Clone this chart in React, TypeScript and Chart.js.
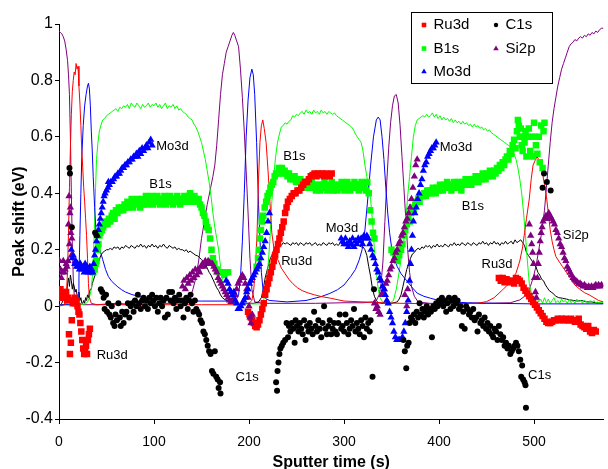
import React, { useEffect, useRef } from "react";
import { Chart, registerables } from "chart.js";

Chart.register(...registerables);

const FONT = '"Liberation Sans", Arial, Helvetica, sans-serif';

// ---------- Peak-shift markers: [sputter time (s), peak shift (eV)] ----------
const ru3dShift = [
  [0.5,0.04],[1.5,0.06],[2.5,0.03],[3.5,0.04],[4.5,0.05],[5.5,0.03],[6.5,0.04],[7.5,0.05],[8.5,0.02],[9.5,0.03],
  [10.5,-0.1],[11.5,-0.17],[12.5,-0.13],[13.5,-0.05],[14.5,0.01],[15.5,0.02],[16.5,0.03],[17.5,0.01],[18.5,0.02],[19.5,0.0],
  [20.5,-0.02],[21.5,-0.03],[22.5,-0.06],[23.5,-0.09],[24.5,-0.12],[25.5,-0.15],[26.5,-0.17],[27.5,-0.16],[28.5,-0.14],[29.5,-0.17],
  [30.5,-0.12],[31.5,-0.1],[32.5,-0.08],
  [199,-0.02],[200.5,-0.03],[202,-0.04],[203.5,-0.05],[205,-0.06],[206.5,-0.07],[208,-0.075],[209.5,-0.065],[211,-0.05],[212.5,-0.03],
  [214,-0.01],[215.5,0.01],[217,0.04],[218.5,0.06],[220,0.08],[221.5,0.1],[223,0.12],[224.5,0.14],[226,0.16],[227.5,0.18],
  [229,0.2],[230.5,0.22],[232,0.24],[233.5,0.26],[235,0.28],[236.5,0.3],[238,0.33],[239.5,0.35],[241,0.37],[243,0.38],
  [245,0.39],[247,0.4],[249,0.4],[251,0.41],[253,0.41],[255,0.42],[257,0.43],[259,0.44],[261,0.44],[263,0.45],
  [265,0.46],[267,0.465],[269,0.47],[271,0.46],[273,0.47],[275,0.465],[277,0.47],[279,0.46],[281,0.47],[283,0.465],[285,0.46],[287,0.47],
  [463,0.1],[465,0.09],[467,0.1],[469,0.085],[471,0.095],[473,0.09],[475,0.085],[477,0.09],[479,0.08],[481,0.1],
  [483,0.095],[485,0.09],[487,0.08],[489,0.065],[491,0.055],[493,0.045],[495,0.035],[497,0.025],[499,0.015],[501,0.005],
  [503,-0.005],[505,-0.015],[507,-0.025],[509,-0.035],[511,-0.045],[513,-0.055],[515,-0.06],[517,-0.06],[519,-0.055],[521,-0.05],
  [523,-0.05],[525,-0.045],[527,-0.05],[529,-0.045],[531,-0.05],[533,-0.045],[535,-0.05],[537,-0.05],[539,-0.045],[541,-0.05],
  [543,-0.055],[545,-0.05],[547,-0.045],[549,-0.065],[551,-0.07],[553,-0.075],[555,-0.08],[557,-0.07],[559,-0.09],[561,-0.095],[563,-0.085],[565,-0.09],
];

const b1sShift = [
  [36,0.12],[37.5,0.13],[38.5,0.15],[39.5,0.16],[40.5,0.2],[41.5,0.22],[42.5,0.25],[43.5,0.26],[45,0.27],[46.5,0.28],
  [48,0.29],[49.5,0.3],[51,0.29],[52.5,0.31],[54,0.3],[55.5,0.32],[57,0.33],[58.5,0.31],[60,0.34],[61.5,0.33],
  [63,0.35],[64.5,0.34],[66,0.35],[67.5,0.34],[69,0.36],[70.5,0.35],[72,0.37],[73.5,0.35],[75,0.36],[76.5,0.38],
  [78,0.35],[79.5,0.37],[81,0.36],[82.5,0.38],[84,0.37],[85.5,0.35],[87,0.38],[88.5,0.36],[90,0.37],[91.5,0.39],
  [93,0.36],[94.5,0.38],[96,0.37],[97.5,0.39],[99,0.36],[100.5,0.38],[102,0.37],[103.5,0.39],[105,0.38],[106.5,0.36],
  [108,0.38],[109.5,0.37],[111,0.39],[112.5,0.36],[114,0.38],[115.5,0.37],[117,0.39],[118.5,0.38],[120,0.36],[121.5,0.38],
  [123,0.37],[124.5,0.39],[126,0.38],[127.5,0.36],[129,0.38],[130.5,0.37],[132,0.39],[133.5,0.38],[135,0.37],[136.5,0.39],
  [138,0.4],[139.5,0.38],[141,0.37],[142.5,0.39],[144,0.38],[145.5,0.37],[147,0.38],[148.5,0.36],[150,0.35],[151.5,0.33],
  [153,0.32],[154.5,0.3],[156,0.28],[157.5,0.27],[159,0.24],[160.5,0.2],[162,0.17],[163.5,0.15],[166,0.13],[168,0.12],
  [170,0.12],[172,0.12],[174,0.11],[176,0.12],[178,0.12],
  [208,0.14],[209.5,0.17],[210.5,0.2],[211.5,0.24],[212.5,0.27],[213.5,0.3],[215,0.32],[216.5,0.35],[218,0.37],[219.5,0.39],
  [221,0.4],[222.5,0.42],[224,0.43],[225.5,0.44],[227,0.46],[228.5,0.47],[230,0.47],[231.5,0.49],[233,0.48],[234.5,0.49],
  [236,0.47],[237.5,0.48],[239,0.47],[240.5,0.46],[242,0.47],[243.5,0.45],[245,0.46],[246.5,0.45],[248,0.46],[249.5,0.44],
  [251,0.45],[252.5,0.44],[254,0.45],[255.5,0.43],[257,0.44],[258.5,0.43],[260,0.44],[261.5,0.42],[263,0.43],[264.5,0.42],
  [266,0.44],[267.5,0.42],[269,0.43],[270.5,0.41],[272,0.42],[273.5,0.43],[275,0.41],[276.5,0.43],[278,0.42],[279.5,0.44],
  [281,0.42],[282.5,0.41],[284,0.43],[285.5,0.42],[287,0.44],[288.5,0.41],[290,0.43],[291.5,0.42],[293,0.41],[294.5,0.43],
  [296,0.42],[297.5,0.44],[299,0.42],[300.5,0.41],[302,0.43],[303.5,0.44],[305,0.42],[306.5,0.41],[308,0.43],[309.5,0.42],
  [311,0.44],[312.5,0.42],[314,0.43],[315.5,0.41],[317,0.43],[318.5,0.44],[320,0.42],[321.5,0.43],[323,0.41],[324.5,0.44],
  [326,0.4],[327.5,0.34],[329,0.3],[330.5,0.26],[332,0.24],
  [350,0.2],[352,0.19],[354,0.17],[356,0.16],[358,0.18],[360,0.2],[361.5,0.22],[363,0.25],[364.5,0.27],[366,0.29],
  [367.5,0.31],[369,0.3],[370.5,0.33],[372,0.35],[373.5,0.34],[375,0.36],[376.5,0.37],[378,0.38],[379.5,0.37],[381,0.39],
  [383,0.39],[384.5,0.4],[386,0.39],[387.5,0.41],[389,0.4],[390.5,0.41],[392,0.4],[393.5,0.42],[395,0.41],[396.5,0.4],
  [398,0.42],[399.5,0.41],[401,0.43],[402.5,0.42],[404,0.41],[405.5,0.43],[407,0.42],[408.5,0.44],[410,0.42],[411.5,0.43],
  [413,0.41],[414.5,0.43],[416,0.44],[417.5,0.42],[419,0.43],[420.5,0.44],[422,0.42],[423.5,0.41],[425,0.44],[426.5,0.43],
  [428,0.45],[429.5,0.43],[431,0.44],[432.5,0.45],[434,0.43],[435.5,0.45],[437,0.44],[438.5,0.46],[440,0.45],[441.5,0.44],
  [443,0.46],[444.5,0.45],[446,0.47],[447.5,0.46],[449,0.45],[450.5,0.47],[452,0.46],[453.5,0.48],[455,0.47],[456.5,0.46],
  [458,0.48],[459.5,0.47],[461,0.49],[462.5,0.48],[464,0.5],[465.5,0.49],[467,0.51],[468.5,0.5],[470,0.52],[471.5,0.53],
  [473,0.52],[474.5,0.55],[476,0.54],[477.5,0.57],[479,0.59],[480.5,0.56],
  [482,0.62],[483,0.66],[484,0.64],[485,0.6],[486,0.63],[487,0.57],[488,0.55],[489,0.6],[490,0.58],[491,0.62],
  [492,0.53],[493,0.6],[494.5,0.63],[496,0.55],[497,0.6],[498.5,0.53],[500,0.65],[501,0.6],[502,0.57],[503.5,0.54],
  [505,0.6],[506,0.51],[507.5,0.64],[509,0.49],[510,0.62],[511,0.65],
];

const mo3dShift = [
  [13,0.2],[14,0.17],[15,0.18],[16.5,0.15],[17.5,0.16],[18.5,0.14],[19.5,0.15],[20.5,0.14],[21.5,0.13],[22.5,0.15],
  [23.5,0.14],[24.5,0.13],[25.5,0.14],[26.5,0.12],[27.5,0.15],[28.5,0.13],[29.5,0.14],[30.5,0.12],[31.5,0.13],[32.5,0.14],
  [33.5,0.12],[34.5,0.13],[35.5,0.12],[36.5,0.15],[37.5,0.18],[38.5,0.2],[39.5,0.23],[40.5,0.25],[41.5,0.27],[42.5,0.29],
  [43.5,0.31],[44.5,0.33],[45.5,0.35],[46.5,0.37],[47.5,0.39],[48.5,0.4],[50,0.41],[51.5,0.42],[52,0.44],[53,0.43],
  [54.5,0.44],[56,0.44],[57.5,0.45],[59,0.46],[60.5,0.46],[62,0.47],[63.5,0.47],[65,0.48],[66.5,0.49],[68,0.49],
  [69.5,0.5],[71,0.5],[72.5,0.51],[74,0.51],[75.5,0.52],[77,0.52],[78.5,0.53],[80,0.53],[81.5,0.54],[83,0.53],
  [84.5,0.55],[86,0.54],[87.5,0.56],[89,0.55],[90.5,0.56],[92,0.57],[93.5,0.56],[95,0.58],[96.5,0.59],[98,0.57],
  [176,0.09],[178,0.08],[179.5,0.06],[181,0.05],[182.5,0.04],[184,0.05],[185.5,0.02],[187,0.01],[188.5,-0.01],[190,-0.01],
  [191.5,0.0],[193,0.01],[194.5,0.02],[196,0.03],[197.5,0.05],[199,0.06],[200.5,0.08],[202,0.09],[203.5,0.1],[205,0.11],
  [206.5,0.12],[208,0.13],[209.5,0.14],[211,0.15],[212.5,0.17],[214,0.19],[215.5,0.21],[217,0.23],[218.5,0.26],[220,0.3],[221.5,0.33],
  [297,0.24],[298.5,0.23],[300,0.22],[301.5,0.24],[303,0.22],[304.5,0.21],[306,0.23],[307.5,0.22],[309,0.24],[310.5,0.21],
  [312,0.23],[313.5,0.22],[315,0.24],[316.5,0.23],[318,0.24],[319.5,0.22],[321,0.25],[322.5,0.24],[324,0.25],[325.5,0.24],
  [327,0.22],[328.5,0.2],[330,0.18],[331.5,0.17],[333,0.15],[334.5,0.13],[336,0.12],[337.5,0.1],[339,0.09],[340.5,0.07],
  [342,0.06],[343.5,0.04],[345,0.02],[346.5,0.01],[348,-0.02],[349.5,-0.04],[351,-0.06],[352.5,-0.09],[354,-0.11],[355.5,-0.12],
  [357,-0.12],[358.5,-0.12],[360,-0.12],[361.5,-0.11],[363,-0.09],[364.5,-0.06],[366,-0.02],[367.5,0.02],[369,0.09],[370,0.15],
  [371,0.2],[372,0.25],[373,0.3],[374.5,0.33],[376,0.35],[377.5,0.38],[379,0.4],[380.5,0.43],[382,0.45],[383.5,0.48],
  [385,0.5],[386.5,0.51],[388,0.53],[389.5,0.54],[391,0.55],[392.5,0.56],[394,0.56],[395.5,0.57],[397,0.58],
];

const c1sShift = [
  [11,0.49],[11.5,0.47],[13.5,0.28],[38,0.26],[39.5,0.25],
  [44,0.06],[45.5,0.05],[47,0.03],[48,-0.01],[49.5,0.04],[50.5,-0.02],[52,0.01],[53,-0.03],[54.5,-0.04],[55.5,0.0],
  [57,-0.06],[58.5,-0.07],[59.5,-0.03],[61,-0.05],[62.5,0.01],[64,-0.04],[65,-0.07],[66.5,-0.02],[68,-0.06],[69.5,-0.03],
  [71,-0.02],[72.5,0.01],[74,-0.04],[75.5,0.0],[77,0.01],[78.5,-0.02],[80,0.02],[81.5,0.0],[83,0.04],[84.5,0.01],
  [86,-0.01],[87.5,0.02],[89,0.03],[90.5,0.0],[92,0.02],[93.5,-0.01],[95,0.03],[96.5,0.01],[98,0.04],[99.5,0.02],
  [101,0.0],[102.5,0.03],[104,-0.02],[105.5,0.01],[107,0.03],[108.5,0.0],[110,0.02],[111.5,-0.04],[113,0.03],[114.5,-0.03],
  [116,0.05],[117.5,0.02],[119,0.05],[120.5,0.01],[122,0.03],[123.5,-0.01],[125,0.02],[126.5,0.04],[128,0.0],[129.5,0.02],
  [131,-0.04],[132.5,0.01],[134,0.03],[135.5,-0.01],[137,0.02],[138.5,0.04],[140,0.01],[141.5,-0.02],[143,0.02],[144.5,-0.01],
  [146,-0.02],[147.5,-0.03],[149,-0.05],[150.5,-0.06],[152,-0.09],[153.5,-0.1],[155,-0.12],[156.5,-0.14],[158,-0.16],[159.5,-0.17],
  [161,-0.23],[162.5,-0.24],[164,-0.16],[165.5,-0.25],[167,-0.26],[168,-0.29],[169.5,-0.27],[170,-0.31],
  [228.5,-0.27],[229.5,-0.3],[230,-0.23],[231,-0.2],[232,-0.17],[233,-0.15],[234.5,-0.14],[236,-0.13],[238,-0.12],[239.5,-0.06],
  [241,-0.11],[242,-0.07],[243.5,-0.09],[245,-0.06],[246.5,-0.08],[248,-0.13],[249,-0.05],[250.5,-0.07],[252,-0.09],[253.5,-0.06],
  [255,-0.08],[256.5,-0.1],[258,-0.05],[259.5,-0.12],[261,-0.07],[262.5,-0.09],[264,-0.06],[265.5,-0.08],[267,-0.1],[268.5,-0.02],
  [270,-0.07],[271.5,-0.09],[273,-0.05],[274.5,-0.08],[276,-0.11],[277.5,-0.06],[279,0.0],[280.5,-0.08],[282,-0.1],[283.5,-0.07],
  [285,-0.05],[286.5,-0.1],[288,-0.08],[289.5,-0.06],[291,-0.09],[292.5,-0.1],[294,-0.06],[295.5,-0.03],[297,-0.08],[298.5,-0.07],
  [300,-0.09],[301.5,-0.03],[303,-0.06],[304.5,-0.1],[306,-0.08],[307.5,-0.05],[309,-0.07],[310.5,-0.01],[312,-0.09],[313.5,-0.06],
  [315,-0.08],[316.5,-0.1],[318,-0.05],[319.5,-0.07],[321,-0.11],[322.5,-0.04],[324,-0.08],[325.5,-0.06],[327,-0.09],[328,-0.05],
  [330,-0.25],[331.5,0.06],
  [362.5,-0.12],[364,-0.16],[365.5,-0.22],[366.5,-0.14],[368,-0.13],[369,-0.06],[370.5,-0.04],[372,-0.05],[373.5,-0.03],[375,-0.06],
  [376.5,-0.02],[378,-0.04],[379.5,0.01],[381,-0.03],[382.5,-0.01],[384,-0.04],[385.5,-0.02],[387,0.0],[388.5,-0.03],[390,-0.01],
  [391.5,-0.02],[392.5,-0.11],[394,0.0],[395.5,-0.01],[397,0.01],[398.5,0.0],[400,0.02],[401.5,0.01],[403,0.03],[404.5,0.0],
  [406,0.02],[407.5,-0.02],[409,0.01],[410.5,0.03],[412,-0.01],[413.5,0.02],[415,0.0],[416.5,0.03],[418,0.01],[419.5,0.02],
  [421,-0.01],[422.5,0.0],[424,-0.07],[425.5,-0.02],[427,-0.08],[428.5,0.0],[430,-0.01],[431.5,-0.03],[433,-0.02],[434.5,-0.04],
  [436,-0.01],[437.5,-0.05],[439,-0.04],[440.5,-0.09],[442,-0.03],[443.5,-0.06],[445,-0.05],[446.5,-0.07],[448,-0.04],[449.5,-0.08],
  [451,-0.06],[452.5,-0.09],[454,-0.07],[455.5,-0.1],[457,-0.11],[458.5,-0.08],[460,-0.09],[461.5,-0.12],[463,-0.07],[464.5,-0.1],
  [466,-0.12],[467.5,-0.11],[469,-0.14],[470.5,-0.13],[472,-0.15],[473.5,-0.14],[475,-0.17],[476.5,-0.16],[478,-0.15],[479.5,-0.14],
  [481,-0.13],[482.5,-0.14],[484,-0.16],[485.5,-0.19],[486.5,-0.25],[487.5,-0.21],[488.5,-0.26],[490,-0.27],[491,-0.28],[491.5,-0.36],
  [509,0.42],[510.5,0.47],[513.5,0.44],[517.5,0.41],
];

const si2pShift = [
  [0.5,0.16],[1.5,0.13],[2.5,0.1],[3.5,0.12],[4.5,0.16],[5.5,0.12],[6.5,0.13],[7.5,0.15],[8.5,0.14],[9.5,0.16],
  [10,0.29],[10.5,0.39],[11,0.22],[11.5,0.33],[12,0.35],[12.5,0.26],[13,0.18],[13.5,0.24],
  [130,0.07],[131.5,0.09],[133,0.06],[134.5,0.1],[136,0.08],[137.5,0.11],[139,0.09],[140.5,0.12],[142,0.1],[143.5,0.13],
  [145,0.11],[146.5,0.13],[148,0.12],[149.5,0.14],[151,0.15],[152.5,0.14],[154,0.16],[155.5,0.15],[157,0.16],[158.5,0.155],
  [160,0.15],[161.5,0.15],[163,0.14],[164.5,0.13],[166,0.12],[167.5,0.1],[169,0.09],[170.5,0.08],[172,0.07],[173.5,0.06],
  [175,0.05],[176.5,0.04],[178,0.03],[179.5,0.02],[181,0.015],[182.5,0.02],[184,0.03],[185.5,0.04],[187,0.06],[188.5,0.08],
  [190,0.09],[191.5,0.1],[193,0.11],[194.5,0.1],[196,0.08],[197.5,0.06],[199,0.03],[200,0.0],[201,-0.04],[202,-0.06],[203.5,-0.03],
  [332,0.01],[333.5,-0.01],[335,0.0],[336.5,-0.02],[338,-0.03],[339.5,0.04],[341,0.05],[342.5,0.06],[344,0.08],[345.5,0.09],
  [347,0.11],[348.5,0.13],[350,0.14],[351.5,0.16],[353,0.17],[354.5,0.19],[356,0.2],[357.5,0.22],[359,0.23],[360.5,0.25],
  [362,0.26],[363.5,0.28],[365,0.3],[366.5,0.31],[368,0.33],[369.5,0.35],[371,0.38],[372.5,0.42],[374,0.46],[375.5,0.5],
  [377,0.52],[364,0.04],[366,0.0],[367,0.06],
  [495,0.29],[496.5,0.25],[497.5,0.22],[498.5,0.19],[499.5,0.15],[500.5,0.1],[501.5,0.05],[502.5,0.03],[503.5,0.1],[504.5,0.15],
  [505.5,0.19],[506.5,0.23],[507.5,0.26],[508.5,0.28],[509.5,0.3],[511,0.31],[512.5,0.32],[514,0.31],[515.5,0.33],[517,0.32],
  [518.5,0.31],[520,0.3],[521.5,0.29],[523,0.27],[524.5,0.26],[526,0.24],[527.5,0.22],[529,0.21],[530.5,0.19],[532,0.17],
  [533.5,0.16],[535,0.14],[536.5,0.13],[538,0.12],[539.5,0.11],[541,0.1],[542.5,0.095],[544,0.09],[545.5,0.085],[547,0.08],
  [548.5,0.08],[550,0.075],[551.5,0.07],[553,0.075],[554.5,0.07],[556,0.065],[557.5,0.07],[559,0.065],[560.5,0.07],[562,0.065],
  [563.5,0.07],[565,0.075],[566.5,0.07],[568,0.075],[569.5,0.07],[571,0.075],
];

// ---------- Normalised depth-profile intensities (thin lines) ----------
const si2pLine = [
  [0,0.975],[1.5,0.97],[3,0.965],[4.5,0.955],[6,0.94],[7.5,0.91],[9,0.87],[10,0.82],[11,0.75],[12,0.6],[13,0.4],[14,0.22],
  [15,0.1],[16,0.04],[18,0.01],[25,0.005],[40,0.005],[60,0.01],[80,0.005],[100,0.01],[120,0.01],[135,0.015],[138,0.03],
  [141,0.06],[144,0.1],[147,0.16],[150,0.24],[153,0.3],[156,0.36],[159,0.41],[162,0.46],[164,0.5],[166,0.57],[168,0.66],
  [170,0.75],[172,0.82],[174,0.86],[176,0.9],[178,0.92],[180,0.94],[182,0.96],[183.5,0.97],[185,0.96],[187,0.94],[189,0.92],
  [191,0.84],[193,0.74],[195,0.62],[197,0.48],[199,0.33],[201,0.17],[203,0.06],[206,0.015],[215,0.01],[240,0.01],[270,0.01],
  [300,0.012],[320,0.012],[330,0.015],[334,0.02],[337,0.04],[339,0.08],[341,0.16],[343,0.3],[345,0.44],[347,0.56],[349,0.65],
  [351,0.71],[353,0.745],[355,0.75],[357,0.72],[359,0.64],[361,0.53],[363,0.42],[365,0.31],[367,0.2],[369,0.12],[371,0.07],
  [374,0.035],[378,0.015],[390,0.01],[420,0.01],[450,0.01],[475,0.012],[485,0.022],[490,0.035],[495,0.058],[499,0.1],[502,0.14],
  [505,0.2],[508,0.26],[511,0.34],[513,0.42],[515,0.5],[517,0.58],[519,0.65],[521,0.7],[523,0.74],[525,0.78],[527,0.81],
  [529,0.84],[531,0.86],[533,0.88],[535,0.9],[537,0.92],[539,0.93],[541,0.935],[543,0.945],[545,0.94],[547,0.95],[549,0.955],
  [551,0.95],[553,0.96],[555,0.955],[557,0.965],[559,0.96],[561,0.97],[563,0.965],[565,0.975],[567,0.97],[569,0.98],[571,0.985],[573,0.985],
];

const ru3dLine = [
  [0,0.0],[6,0.005],[8,0.05],[9,0.13],[10,0.26],[11,0.42],[12,0.56],[13,0.68],[14,0.76],[15,0.8],[16,0.83],[17,0.82],
  [18,0.86],[19,0.84],[20,0.85],[21,0.78],[22,0.72],[23,0.64],[24,0.55],[25,0.49],[26,0.42],[27,0.37],[28,0.31],[29,0.25],
  [30,0.17],[31,0.08],[32,0.03],[34,0.01],[40,0.005],[60,0.005],[100,0.005],[150,0.005],[190,0.005],[200,0.01],[203,0.02],
  [205,0.06],[207,0.15],[208.5,0.26],[210,0.45],[211.5,0.58],[213,0.64],[214.5,0.66],[216,0.63],[218,0.58],[220,0.48],
  [222,0.37],[224,0.26],[226,0.21],[228,0.18],[231,0.16],[234,0.135],[238,0.115],[242,0.095],[246,0.08],[251,0.065],
  [256,0.055],[262,0.047],[269,0.04],[276,0.034],[286,0.028],[300,0.018],[320,0.015],[340,0.012],[360,0.01],[400,0.008],
  [440,0.01],[450,0.016],[458,0.03],[467,0.058],[475,0.085],[481,0.117],[485,0.16],[488,0.21],[490,0.26],[492,0.31],
  [495,0.38],[497,0.45],[499,0.5],[501,0.515],[503,0.53],[505,0.52],[507,0.5],[509,0.47],[511,0.43],[513,0.39],[515,0.33],
  [517,0.27],[519,0.23],[521,0.2],[523,0.176],[526,0.16],[530,0.14],[534,0.12],[538,0.1],[543,0.075],[548,0.06],[553,0.048],
  [558,0.04],[563,0.03],[568,0.02],[573,0.015],
];

const mo3dLine = [
  [0,0.005],[15,0.005],[18,0.01],[20,0.03],[21,0.1],[22,0.25],[23,0.4],[24,0.53],[25.5,0.64],[27,0.71],[28.5,0.75],
  [30,0.78],[31,0.79],[32,0.77],[33,0.71],[34,0.62],[35,0.55],[36,0.46],[37.5,0.35],[39,0.26],[40.5,0.22],[43,0.2],
  [46,0.165],[49,0.13],[52,0.105],[55,0.09],[58,0.08],[62,0.068],[66,0.058],[70,0.05],[76,0.042],[83,0.035],[92,0.028],
  [100,0.024],[120,0.02],[150,0.018],[180,0.018],[186,0.02],[189,0.04],[191,0.1],[193,0.23],[195,0.4],[197,0.6],[199,0.73],
  [201,0.81],[203,0.84],[204.5,0.82],[206,0.75],[208,0.58],[210,0.36],[211.5,0.24],[213,0.12],[215,0.05],[218,0.025],
  [222,0.02],[240,0.015],[260,0.02],[276,0.034],[285,0.045],[293,0.058],[300,0.075],[307,0.105],[312,0.13],[316,0.164],
  [319,0.2],[322,0.27],[325,0.38],[328,0.5],[331,0.6],[334,0.66],[336,0.67],[338,0.66],[340,0.6],[342,0.52],[344,0.42],
  [346,0.33],[348,0.26],[350,0.21],[353,0.17],[356,0.14],[360,0.115],[366,0.09],[372,0.065],[377,0.046],[384,0.035],
  [391,0.028],[400,0.02],[408,0.016],[430,0.012],[460,0.01],[500,0.008],[540,0.008],[573,0.008],
];

const b1sLine = [
  [0,0.005],[20,0.005],[28,0.008],[30,0.015],[32,0.03],[34,0.06],[35.5,0.12],[36.5,0.2],[37.5,0.3],[38.5,0.42],[39.5,0.52],
  [41,0.58],[42.5,0.62],[44,0.64],[46,0.66],[48,0.665],[50,0.675],[52,0.68],[54,0.685],[56,0.69],[58,0.695],[60,0.7],
  [62,0.69],[64,0.705],[66,0.7],[68,0.71],[70,0.705],[72,0.715],[74,0.7],[76,0.72],[78,0.71],[80,0.705],[82,0.72],
  [84,0.71],[86,0.7],[88,0.715],[90,0.705],[92,0.71],[94,0.72],[96,0.705],[98,0.715],[100,0.71],[102,0.72],[104,0.705],
  [106,0.715],[108,0.7],[110,0.71],[112,0.72],[114,0.7],[116,0.71],[118,0.705],[120,0.715],[122,0.7],[124,0.71],[126,0.695],
  [128,0.7],[130,0.69],[132,0.685],[134,0.68],[136,0.67],[138,0.665],[140,0.66],[142,0.645],[144,0.635],[146,0.62],[148,0.6],
  [150,0.58],[152,0.55],[154,0.52],[156,0.48],[158,0.44],[160,0.39],[162,0.33],[164,0.28],[166,0.24],[168,0.2],[170,0.14],
  [172,0.09],[174,0.06],[176,0.04],[178,0.03],[182,0.016],[190,0.008],[212,0.008],[215,0.015],[218,0.06],[220,0.14],
  [222,0.235],[224,0.37],[226,0.46],[228,0.53],[230,0.58],[232,0.61],[234,0.635],[236,0.64],[238,0.65],[240,0.645],
  [242,0.655],[244,0.66],[246,0.675],[248,0.67],[250,0.68],[252,0.675],[254,0.685],[256,0.69],[258,0.68],[260,0.695],
  [262,0.685],[264,0.69],[266,0.68],[268,0.695],[270,0.685],[272,0.69],[274,0.68],[276,0.695],[278,0.685],[280,0.69],
  [282,0.68],[284,0.69],[286,0.685],[288,0.68],[290,0.685],[292,0.675],[294,0.67],[296,0.665],[298,0.66],[300,0.655],
  [302,0.65],[304,0.645],[306,0.64],[308,0.635],[310,0.625],[312,0.61],[314,0.6],[316,0.59],[318,0.58],[320,0.55],
  [322,0.5],[324,0.46],[326,0.42],[328,0.377],[330,0.3],[332,0.2],[334,0.12],[336,0.06],[338,0.03],[341,0.012],[348,0.01],
  [352,0.02],[355,0.06],[358,0.12],[361,0.19],[363,0.235],[365,0.3],[367,0.39],[369,0.46],[371,0.53],[373,0.6],[375,0.64],
  [377,0.66],[379,0.665],[381,0.67],[383,0.675],[385,0.67],[387,0.68],[389,0.67],[391,0.675],[393,0.685],[395,0.67],
  [397,0.68],[399,0.665],[401,0.675],[403,0.66],[405,0.67],[407,0.66],[409,0.665],[411,0.655],[413,0.665],[415,0.65],
  [417,0.66],[419,0.65],[421,0.655],[423,0.645],[425,0.655],[427,0.645],[429,0.65],[431,0.64],[433,0.645],[435,0.635],
  [437,0.645],[439,0.635],[441,0.64],[443,0.63],[445,0.635],[447,0.625],[449,0.63],[451,0.62],[453,0.625],[455,0.615],
  [457,0.61],[459,0.605],[461,0.6],[463,0.595],[465,0.59],[467,0.585],[469,0.58],[471,0.575],[473,0.57],[475,0.565],
  [477,0.555],[479,0.54],[481,0.52],[483,0.49],[485,0.45],[487,0.4],[489,0.33],[491,0.25],[493,0.16],[495,0.08],[497,0.05],
  [499,0.035],[501,0.022],[503,0.03],[505,0.015],[507,0.025],[509,0.01],[511,0.03],[513,0.012],[515,0.025],[517,0.01],
  [519,0.02],[521,0.03],[523,0.012],[525,0.02],[527,0.01],[529,0.025],[531,0.015],[533,0.02],[535,0.01],[537,0.025],
  [539,0.012],[541,0.02],[543,0.01],[545,0.025],[547,0.015],[549,0.02],[551,0.01],[553,0.02],[555,0.015],[557,0.01],
  [559,0.02],[561,0.012],[563,0.02],[565,0.01],[567,0.015],[569,0.01],[571,0.015],[573,0.01],
];

const c1sLine = [
  [0,0.0],[3,0.01],[5,0.03],[7,0.06],[8,0.04],[9,0.08],[10,0.1],[11,0.07],[12,0.11],[13,0.09],[14,0.06],[15,0.08],
  [16,0.07],[17,0.05],[18,0.06],[19,0.04],[20,0.03],[21,0.05],[22,0.02],[23,0.03],[24,0.01],[25,0.01],[26,0.02],[27,0.01],
  [28,0.03],[29,0.02],[30,0.04],[31,0.03],[32,0.05],[33,0.06],[34,0.06],[35,0.08],[36,0.09],[37,0.1],[38,0.11],[39,0.13],
  [40,0.14],[42,0.16],[44,0.18],[46,0.19],[48,0.195],[50,0.2],[52,0.2],[54,0.205],[56,0.2],[58,0.21],[60,0.205],[62,0.21],
  [64,0.2],[66,0.21],[68,0.205],[70,0.215],[72,0.21],[74,0.205],[76,0.215],[78,0.21],[80,0.205],[82,0.215],[84,0.21],
  [86,0.22],[88,0.21],[90,0.215],[92,0.205],[94,0.215],[96,0.21],[98,0.22],[100,0.21],[102,0.215],[104,0.205],[106,0.215],
  [108,0.21],[110,0.22],[112,0.21],[114,0.205],[116,0.215],[118,0.21],[120,0.205],[122,0.21],[124,0.2],[126,0.205],
  [128,0.2],[130,0.2],[132,0.195],[134,0.2],[136,0.19],[138,0.195],[140,0.19],[142,0.185],[144,0.18],[146,0.178],
  [148,0.172],[150,0.165],[152,0.158],[154,0.15],[156,0.135],[158,0.12],[160,0.11],[162,0.095],[164,0.08],[166,0.065],
  [168,0.055],[170,0.04],[172,0.03],[175,0.022],[180,0.015],[190,0.01],[205,0.01],[210,0.015],[213,0.03],[215,0.06],
  [217,0.1],[218.5,0.12],[220,0.14],[222,0.165],[224,0.18],[226,0.2],[228,0.205],[230,0.21],[232,0.22],[234,0.215],
  [236,0.225],[238,0.22],[240,0.225],[242,0.22],[244,0.215],[246,0.225],[248,0.22],[250,0.225],[252,0.215],[254,0.225],
  [256,0.22],[258,0.215],[260,0.225],[262,0.22],[264,0.225],[266,0.215],[268,0.22],[270,0.225],[272,0.215],[274,0.22],
  [276,0.215],[278,0.225],[280,0.22],[282,0.215],[284,0.225],[286,0.22],[288,0.225],[290,0.215],[292,0.22],[294,0.215],
  [296,0.225],[298,0.22],[300,0.215],[302,0.22],[304,0.215],[306,0.22],[308,0.21],[310,0.22],[312,0.215],[314,0.22],
  [316,0.215],[318,0.21],[320,0.21],[322,0.2],[324,0.18],[326,0.14],[328,0.105],[330,0.06],[332,0.035],[334,0.02],
  [336,0.012],[340,0.01],[350,0.01],[356,0.015],[358,0.025],[360,0.04],[362,0.07],[364,0.1],[366,0.13],[368,0.15],
  [370,0.17],[372,0.185],[374,0.19],[376,0.2],[378,0.205],[380,0.2],[382,0.21],[384,0.205],[386,0.215],[388,0.21],
  [390,0.215],[392,0.205],[394,0.215],[396,0.21],[398,0.22],[400,0.21],[402,0.215],[404,0.21],[406,0.22],[408,0.215],
  [410,0.21],[412,0.22],[414,0.215],[416,0.225],[418,0.215],[420,0.22],[422,0.215],[424,0.225],[426,0.22],[428,0.215],
  [430,0.225],[432,0.22],[434,0.215],[436,0.225],[438,0.22],[440,0.215],[442,0.225],[444,0.22],[446,0.23],[448,0.22],
  [450,0.225],[452,0.215],[454,0.225],[456,0.22],[458,0.23],[460,0.22],[462,0.225],[464,0.215],[466,0.225],[468,0.22],
  [470,0.23],[472,0.22],[474,0.225],[476,0.23],[478,0.22],[480,0.235],[482,0.225],[484,0.23],[486,0.235],[488,0.225],
  [490,0.215],[492,0.19],[494,0.18],[496,0.17],[498,0.16],[500,0.145],[502,0.14],[504,0.12],[506,0.11],[508,0.095],
  [510,0.09],[512,0.075],[514,0.065],[516,0.055],[518,0.05],[520,0.045],[523,0.035],[526,0.03],[530,0.028],[534,0.025],
  [538,0.022],[542,0.02],[546,0.018],[550,0.02],[555,0.015],[560,0.015],[565,0.012],[573,0.01],
];

// ---------- Axis ranges and tick steps ----------
const xRange = [0, 573];
const xStep = 100;
const yRange = [-0.4, 1];
const yStep = 0.2;

// Legend order (row by row)
const legendOrder = ["Ru3d", "C1s", "B1s", "Si2p", "Mo3d"];

// In-plot labels: [text, time (s), shift (eV)] at the text's left-middle
const notes: [string, number, number][] = [
  ["Mo3d", 102.3, 0.565],
  ["B1s", 95, 0.43],
  ["Ru3d", 39.7, -0.173],
  ["C1s", 185.8, -0.251],
  ["B1s", 235.9, 0.53],
  ["Ru3d", 233.8, 0.157],
  ["Mo3d", 280.8, 0.274],
  ["Mo3d", 400.8, 0.561],
  ["B1s", 423.8, 0.352],
  ["Si2p", 530.3, 0.249],
  ["Ru3d", 444.7, 0.147],
  ["C1s", 493.7, -0.244],
];

const RED = "#ff0000";
const GREEN = "#00ff00";
const BLUE = "#0000ff";
const BLACK = "#000000";
const PURPLE = "#800080";

const xy = (pts: number[][]) => pts.map(([x, y]) => ({ x, y }));

function markerSet(label: string, pts: number[][], color: string, style: string, r: number) {
  return {
    label,
    data: xy(pts),
    showLine: false,
    pointStyle: style,
    pointRadius: r,
    pointHoverRadius: r,
    pointBackgroundColor: color,
    pointBorderColor: color,
    pointBorderWidth: 0,
    backgroundColor: color,
    borderColor: color,
  };
}

function lineSet(label: string, pts: number[][], color: string) {
  return {
    label,
    data: xy(pts),
    showLine: true,
    borderColor: color,
    backgroundColor: color,
    borderWidth: 1,
    pointRadius: 0,
    pointHoverRadius: 0,
    tension: 0,
    fill: false,
    isProfile: true,
  };
}

function drawMarker(ctx: CanvasRenderingContext2D, style: string, x: number, y: number, s: number, color: string) {
  ctx.fillStyle = color;
  ctx.beginPath();
  if (style === "rect") {
    ctx.rect(x - s, y - s, 2 * s, 2 * s);
  } else if (style === "triangle") {
    ctx.moveTo(x, y - s * 1.25);
    ctx.lineTo(x + s * 1.15, y + s * 0.75);
    ctx.lineTo(x - s * 1.15, y + s * 0.75);
    ctx.closePath();
  } else {
    ctx.arc(x, y, s, 0, Math.PI * 2);
  }
  ctx.fill();
}

const boxLegend = {
  id: "boxLegend",
  afterDraw(chart: any) {
    const ctx = chart.ctx as CanvasRenderingContext2D;
    ctx.save();
    const bx = 411.5, by = 12.5, bw = 141, bh = 71;
    ctx.fillStyle = "#ffffff";
    ctx.fillRect(bx, by, bw, bh);
    ctx.strokeStyle = "#000000";
    ctx.lineWidth = 1;
    ctx.strokeRect(bx, by, bw, bh);
    const cols = [424, 496];
    const rows = [25, 48.5, 71.5];
    legendOrder.forEach((name, i) => {
      const ds = chart.data.datasets.find((d: any) => d.label === name && !d.isProfile);
      if (!ds) return;
      const cx = cols[i % 2];
      const cy = rows[Math.floor(i / 2)];
      const size = ds.pointStyle === "circle" ? 2.2 : ds.pointStyle === "rect" ? 2.3 : 2.4;
      drawMarker(ctx, ds.pointStyle, cx, cy, size, ds.pointBackgroundColor);
      ctx.fillStyle = "#000000";
      ctx.font = `15px ${FONT}`;
      ctx.textBaseline = "middle";
      ctx.textAlign = "left";
      ctx.fillText(name, cx + 9.5, cy);
    });
    ctx.restore();
  },
};

const noteLabels = {
  id: "noteLabels",
  afterDatasetsDraw(chart: any) {
    const ctx = chart.ctx as CanvasRenderingContext2D;
    const xs = chart.scales.x;
    const ys = chart.scales.y;
    ctx.save();
    ctx.font = `13px ${FONT}`;
    ctx.fillStyle = "#000000";
    ctx.textBaseline = "middle";
    ctx.textAlign = "left";
    notes.forEach(([text, t, v]) => {
      ctx.fillText(text, xs.getPixelForValue(t), ys.getPixelForValue(v));
    });
    ctx.restore();
  },
};

const formatShift = (value: number) => {
  const v = Math.round(value * 10) / 10;
  return v === 0 ? "0" : String(v);
};

export default function App() {
  const canvasRef = useRef<HTMLCanvasElement | null>(null);

  useEffect(() => {
    if (!canvasRef.current) return;
    const datasets: any[] = [
      markerSet("C1s", c1sShift, BLACK, "circle", 3),
      markerSet("Mo3d", mo3dShift, BLUE, "triangle", 4.2),
      markerSet("Si2p", si2pShift, PURPLE, "triangle", 4.2),
      markerSet("Ru3d", ru3dShift, RED, "rect", 4.6),
      markerSet("B1s", b1sShift, GREEN, "rect", 4.6),
      lineSet("Ru3d", ru3dLine, RED),
      lineSet("Mo3d", mo3dLine, BLUE),
      lineSet("B1s", b1sLine, GREEN),
      lineSet("C1s", c1sLine, BLACK),
      lineSet("Si2p", si2pLine, PURPLE),
    ];

    const chart = new Chart(canvasRef.current, {
      type: "scatter",
      data: { datasets },
      plugins: [noteLabels, boxLegend],
      options: {
        animation: false,
        responsive: false,
        maintainAspectRatio: false,
        events: [],
        layout: { padding: { top: 24, right: 0, left: 0, bottom: 0 } },
        plugins: {
          legend: { display: false },
          tooltip: { enabled: false },
        },
        scales: {
          x: {
            type: "linear",
            min: xRange[0],
            max: xRange[1],
            afterBuildTicks: (axis: any) => {
              axis.ticks = axis.ticks.filter((t: any) => t.value % xStep === 0);
            },
            afterFit: (axis: any) => {
              axis.height = 50;
            },
            ticks: {
              stepSize: xStep,
              color: "#000000",
              font: { family: FONT, size: 14 },
              padding: 10,
              maxRotation: 0,
              autoSkip: false,
            },
            grid: { drawOnChartArea: false, color: "#000000", tickLength: 5, lineWidth: 1 },
            border: { color: "#000000", width: 1 },
            title: {
              display: true,
              text: "Sputter time (s)",
              color: "#000000",
              font: { family: FONT, size: 16, weight: "bold" },
              padding: { top: 0, bottom: -3.6 },
            },
          },
          y: {
            type: "linear",
            min: yRange[0],
            max: yRange[1],
            afterFit: (axis: any) => {
              axis.width = 59;
            },
            ticks: {
              stepSize: yStep,
              color: "#000000",
              font: { family: FONT, size: 16 },
              padding: 2,
              callback: (value: any) => formatShift(Number(value)),
            },
            grid: { drawOnChartArea: false, color: "#000000", tickLength: 4, lineWidth: 1 },
            border: { color: "#000000", width: 1 },
            title: {
              display: true,
              text: "Peak shift (eV)",
              color: "#000000",
              font: { family: FONT, size: 16, weight: "bold" },
              padding: { top: 10, bottom: 0 },
            },
          },
        },
      } as any,
    });

    return () => chart.destroy();
  }, []);

  return (
    <div style={{ position: "absolute", left: 0, top: 0, width: 608, height: 469, background: "#ffffff" }}>
      <canvas ref={canvasRef} width={608} height={469} style={{ display: "block" }} />
    </div>
  );
}
